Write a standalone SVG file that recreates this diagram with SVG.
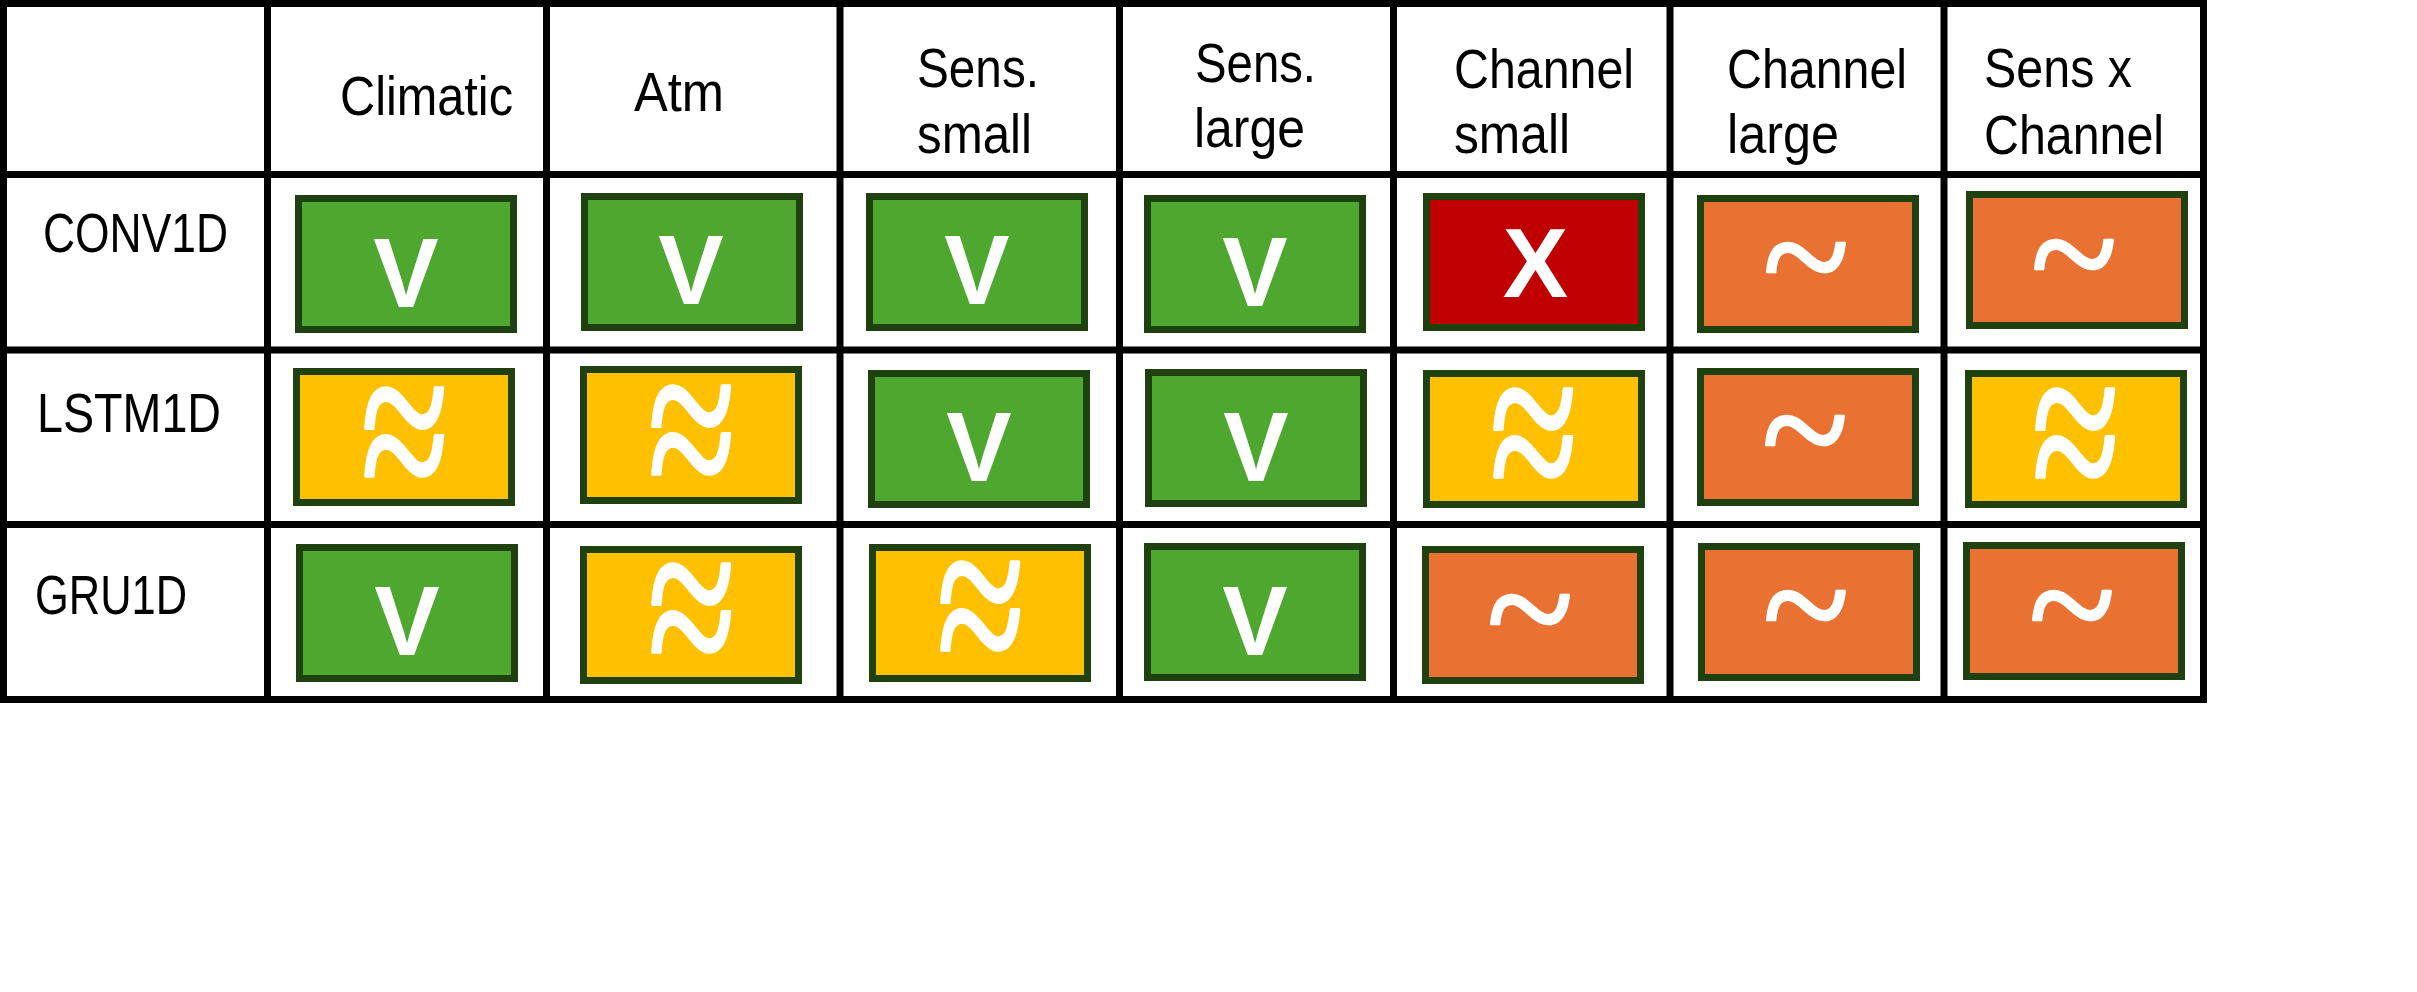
<svg xmlns="http://www.w3.org/2000/svg" width="2417" height="992" viewBox="0 0 2417 992">
<style>
.bg{fill:#ffffff}
.grid{stroke:#000000;stroke-width:7;fill:none}
.box{stroke:#1E410F;stroke-width:7}
.g{fill:#4EA72E}
.y{fill:#FFC000}
.o{fill:#E97132}
.r{fill:#C00000}
.lbl{font-family:"Liberation Sans Narrow","Liberation Sans",Arial,sans-serif;font-size:56px;fill:#000000}
.sym{font-family:"Liberation Sans",Arial,sans-serif;font-size:98px;font-weight:bold;fill:#ffffff;text-anchor:middle}
.tl{font-family:"Liberation Serif","Times New Roman",serif;font-size:160px;fill:#ffffff;stroke:#ffffff;stroke-width:2.5;stroke-linejoin:round;text-anchor:middle}
</style>
<rect class="bg" x="0" y="0" width="2417" height="992"/>
<g id="grid">
<path class="grid" d="M0 3.5H2207 M0 174.5H2207 M0 350H2207 M0 524.5H2207 M0 699.5H2207 M3.5 0V703 M267.5 0V703 M546.5 0V703 M840 0V703 M1119.5 0V703 M1393.5 0V703 M1670 0V703 M1944 0V703 M2203.5 0V703"/>
</g>
<g id="headers" class="lbl">
<text x="340" y="115" textLength="173" lengthAdjust="spacingAndGlyphs">Climatic</text>
<text x="634" y="111" textLength="90" lengthAdjust="spacingAndGlyphs">Atm</text>
<text x="917" y="87" textLength="122" lengthAdjust="spacingAndGlyphs">Sens.</text>
<text x="917" y="153" textLength="115" lengthAdjust="spacingAndGlyphs">small</text>
<text x="1195" y="82" textLength="121" lengthAdjust="spacingAndGlyphs">Sens.</text>
<text x="1194" y="147" textLength="111" lengthAdjust="spacingAndGlyphs">large</text>
<text x="1454" y="88" textLength="180" lengthAdjust="spacingAndGlyphs">Channel</text>
<text x="1454" y="153" textLength="116" lengthAdjust="spacingAndGlyphs">small</text>
<text x="1727" y="88" textLength="180" lengthAdjust="spacingAndGlyphs">Channel</text>
<text x="1727" y="153" textLength="112" lengthAdjust="spacingAndGlyphs">large</text>
<text x="1984" y="87" textLength="148" lengthAdjust="spacingAndGlyphs">Sens x</text>
<text x="1984" y="154" textLength="180" lengthAdjust="spacingAndGlyphs">Channel</text>
</g>
<g id="rowlabels" class="lbl">
<text x="43" y="252" textLength="185" lengthAdjust="spacingAndGlyphs">CONV1D</text>
<text x="37" y="432" textLength="184" lengthAdjust="spacingAndGlyphs">LSTM1D</text>
<text x="35" y="614" textLength="152" lengthAdjust="spacingAndGlyphs">GRU1D</text>
</g>
<g id="conv1d-climatic"><rect class="box g" x="298.5" y="198.5" width="215" height="131"/><text class="sym" x="406" y="307">V</text></g>
<g id="conv1d-atm"><rect class="box g" x="584.5" y="196.5" width="215" height="131"/><text class="sym" x="691" y="304">V</text></g>
<g id="conv1d-senssmall"><rect class="box g" x="869.5" y="196.5" width="215" height="131"/><text class="sym" x="977" y="304">V</text></g>
<g id="conv1d-senslarge"><rect class="box g" x="1147.5" y="198.5" width="215" height="131"/><text class="sym" x="1255" y="306">V</text></g>
<g id="conv1d-channelsmall"><rect class="box r" x="1426.5" y="196.5" width="215" height="131"/><text class="sym" x="1535.5" y="297">X</text></g>
<g id="conv1d-channellarge"><rect class="box o" x="1700.5" y="198.5" width="215" height="131"/><g transform="translate(1806,259) scale(1,1.08)"><text class="tl" x="0" y="52">~</text></g></g>
<g id="conv1d-sensxchannel"><rect class="box o" x="1969.5" y="194.5" width="215" height="131"/><g transform="translate(2074,256) scale(1,1.08)"><text class="tl" x="0" y="52">~</text></g></g>
<g id="lstm1d-climatic"><rect class="box y" x="296.5" y="371.5" width="215" height="131"/><g transform="translate(405,436) scale(1,1.49)"><text class="tl" x="0" y="50">≈</text></g></g>
<g id="lstm1d-atm"><rect class="box y" x="583.5" y="369.5" width="215" height="131"/><g transform="translate(692,434) scale(1,1.49)"><text class="tl" x="0" y="50">≈</text></g></g>
<g id="lstm1d-senssmall"><rect class="box g" x="871.5" y="373.5" width="215" height="131"/><text class="sym" x="979" y="481">V</text></g>
<g id="lstm1d-senslarge"><rect class="box g" x="1148.5" y="372.5" width="215" height="131"/><text class="sym" x="1256" y="481">V</text></g>
<g id="lstm1d-channelsmall"><rect class="box y" x="1426.5" y="373.5" width="215" height="131"/><g transform="translate(1534,437) scale(1,1.49)"><text class="tl" x="0" y="50">≈</text></g></g>
<g id="lstm1d-channellarge"><rect class="box o" x="1700.5" y="371.5" width="215" height="131"/><g transform="translate(1805,432) scale(1,1.08)"><text class="tl" x="0" y="52">~</text></g></g>
<g id="lstm1d-sensxchannel"><rect class="box y" x="1968.5" y="373.5" width="215" height="131"/><g transform="translate(2076,437) scale(1,1.49)"><text class="tl" x="0" y="50">≈</text></g></g>
<g id="gru1d-climatic"><rect class="box g" x="299.5" y="547.5" width="215" height="131"/><text class="sym" x="407" y="655">V</text></g>
<g id="gru1d-atm"><rect class="box y" x="583.5" y="549.5" width="215" height="131"/><g transform="translate(692,612) scale(1,1.49)"><text class="tl" x="0" y="50">≈</text></g></g>
<g id="gru1d-senssmall"><rect class="box y" x="872.5" y="547.5" width="215" height="131"/><g transform="translate(981,610) scale(1,1.49)"><text class="tl" x="0" y="50">≈</text></g></g>
<g id="gru1d-senslarge"><rect class="box g" x="1147.5" y="546.5" width="215" height="131"/><text class="sym" x="1255" y="655">V</text></g>
<g id="gru1d-channelsmall"><rect class="box o" x="1425.5" y="549.5" width="215" height="131"/><g transform="translate(1530,611) scale(1,1.08)"><text class="tl" x="0" y="52">~</text></g></g>
<g id="gru1d-channellarge"><rect class="box o" x="1701.5" y="546.5" width="215" height="131"/><g transform="translate(1806,607) scale(1,1.08)"><text class="tl" x="0" y="52">~</text></g></g>
<g id="gru1d-sensxchannel"><rect class="box o" x="1966.5" y="545.5" width="215" height="131"/><g transform="translate(2072,607) scale(1,1.08)"><text class="tl" x="0" y="52">~</text></g></g>
</svg>
